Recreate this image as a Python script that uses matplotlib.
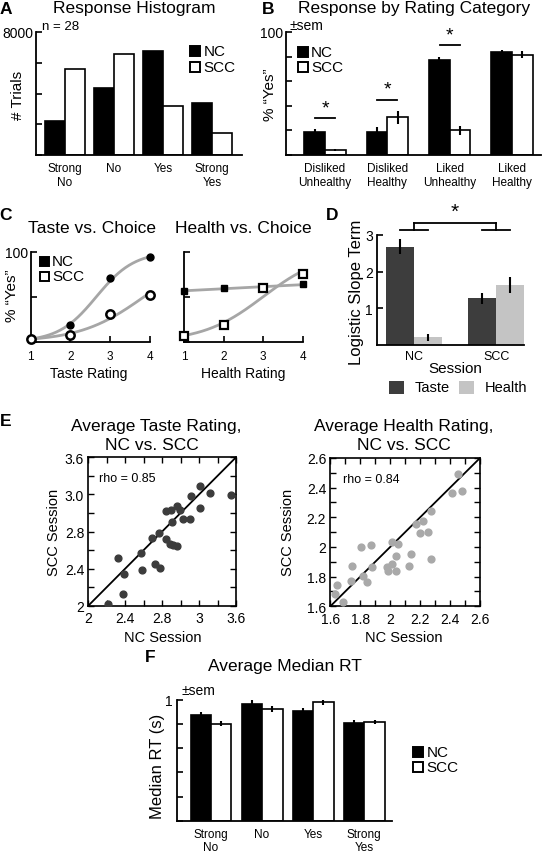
import numpy as np
import matplotlib
matplotlib.use("Agg")
import matplotlib.pyplot as plt
from matplotlib.patches import Rectangle

plt.rcParams['font.family'] = ['Liberation Sans', 'DejaVu Sans']

W, H = 542, 853

# A: response histogram
resp_labels = ["Strong\nNo", "No", "Yes", "Strong\nYes"]
hist_nc = [2230, 4360, 6790, 3400]
hist_scc = [5570, 6550, 3210, 1410]

# B: % yes by rating category
cat_labels = ["Disliked\nUnhealthy", "Disliked\nHealthy", "Liked\nUnhealthy", "Liked\nHealthy"]
yes_nc = [19, 18.5, 77, 83.5]
yes_nc_err = [2.3, 4, 2.3, 1.6]
yes_scc = [4, 30.5, 20, 81.5]
yes_scc_err = [1, 4.9, 3.8, 2.7]
sig_cats = [1, 2, 3]
sig_heights = [30, 45, 89.5]

# C: choice vs rating
ratings = [1, 2, 3, 4]
taste_nc = [3, 19, 71, 94]
taste_scc = [3, 7.8, 30.8, 52]
health_nc = [56.7, 59.3, 60, 64]
health_scc = [6.7, 18.6, 60, 74.9]

# D: logistic slopes
sessions = ["NC", "SCC"]
slope_taste = [2.68, 1.27]
slope_taste_err = [0.2, 0.15]
slope_health = [0.2, 1.63]
slope_health_err = [0.09, 0.21]

# E: average ratings per subject
taste_nc_avg = [2.216, 2.318, 2.39, 2.38, 2.574, 2.578, 2.69, 2.72, 2.77, 2.78,
                2.84, 2.844, 2.9, 2.89, 2.91, 2.92, 2.96, 2.96, 2.995, 3.03,
                3.10, 3.11, 3.21, 3.21, 3.32, 3.55]
taste_scc_avg = [2.02, 2.51, 2.345, 2.13, 2.565, 2.39, 2.727, 2.45, 2.784, 2.41,
                 3.02, 2.72, 3.03, 2.66, 2.905, 2.654, 3.075, 2.64, 3.03, 2.935,
                 2.935, 3.18, 3.057, 3.29, 3.215, 3.19]
health_nc_avg = [1.631, 1.645, 1.687, 1.738, 1.743, 1.805, 1.82, 1.845, 1.872, 1.879,
                 1.977, 1.983, 2.01, 2.012, 2.041, 2.041, 2.052, 2.126, 2.141, 2.17,
                 2.197, 2.219, 2.255, 2.27, 2.275, 2.413, 2.455, 2.48]
health_scc_avg = [1.681, 1.744, 1.629, 1.773, 1.874, 1.998, 1.806, 1.762, 2.013, 1.867,
                  1.867, 1.836, 2.032, 1.887, 1.941, 1.84, 2.022, 1.874, 1.951, 2.155,
                  2.092, 2.172, 2.1, 2.241, 1.919, 2.364, 2.494, 2.38]

# F: median RT
rt_nc = [0.874, 0.965, 0.906, 0.81]
rt_nc_err = [0.025, 0.03, 0.025, 0.02]
rt_scc = [0.80, 0.923, 0.983, 0.816]
rt_scc_err = [0.02, 0.025, 0.025, 0.02]

fig = plt.figure(figsize=(W / 100, H / 100), dpi=100)


def axes_px(l, t, r, b):
    return fig.add_axes([l / W, 1 - b / H, (r - l) / W, (b - t) / H])


def ftext(x, y, s, **kw):
    fig.text(x / W, 1 - y / H, s, **kw)


def open_axes(ax):
    for s in ["top", "right"]:
        ax.spines[s].set_visible(False)
    for s in ["left", "bottom"]:
        ax.spines[s].set_linewidth(1.3)
    ax.tick_params(direction="in", width=1.2, length=4)


def paired_bars(ax, a, b, width, aerr=None, berr=None):
    x = np.arange(1, len(a) + 1)
    ax.bar(x - width / 2, a, width, color="black", edgecolor="black", linewidth=1.2)
    ax.bar(x + width / 2, b, width, color="white", edgecolor="black", linewidth=1.2)
    if aerr is not None:
        ax.errorbar(x - width / 2, a, yerr=aerr, fmt="none", ecolor="black", elinewidth=1.5, capsize=0)
        ax.errorbar(x + width / 2, b, yerr=berr, fmt="none", ecolor="black", elinewidth=1.5, capsize=0)
    return x


# ---------- A ----------
axA = axes_px(36, 33, 242, 156)
open_axes(axA)
xA = paired_bars(axA, hist_nc, hist_scc, 0.41)
axA.set_xlim(0.41, 4.61)
axA.set_ylim(0, 8000)
axA.set_yticks([0, 2000, 4000, 6000, 8000])
axA.set_yticklabels(["", "", "", "", "8000"], fontsize=10)
axA.set_xticks(xA)
axA.set_xticklabels(resp_labels, fontsize=8.5)
axA.tick_params(axis="x", length=0, pad=5)
axA.tick_params(axis="y", pad=2)
ftext(6, 14, "A", fontsize=12.5, fontweight="bold", ha="center", va="baseline")
ftext(134, 13.5, "Response Histogram", fontsize=12.5, ha="center", va="baseline")
ftext(42.5, 30.5, "n = 28", fontsize=9.5, ha="left", va="baseline")
ftext(18, 95, "# Trials", fontsize=11, rotation=90, ha="center", va="center")

# ---------- B ----------
axB = axes_px(286, 33, 541, 156)
open_axes(axB)
xB = paired_bars(axB, yes_nc, yes_scc, 0.33, yes_nc_err, yes_scc_err)
axB.set_xlim(0.374, 4.465)
axB.set_ylim(0, 100)
axB.set_yticks([0, 20, 40, 60, 80, 100])
axB.set_yticklabels(["", "", "", "", "", "100"], fontsize=10)
axB.set_xticks(xB)
axB.set_xticklabels(cat_labels, fontsize=8.5)
axB.tick_params(axis="x", length=0, pad=5)
axB.tick_params(axis="y", pad=2)
for c, h in zip(sig_cats, sig_heights):
    axB.plot([c - 0.16, c + 0.16], [h, h], color="black", lw=1.3)
    axB.text(c, h + 1.5, "*", fontsize=14, ha="center", va="bottom")
ftext(268, 14, "B", fontsize=12.5, fontweight="bold", ha="center", va="baseline")
ftext(414, 13.5, "Response by Rating Category", fontsize=12.5, ha="center", va="baseline")
ftext(290, 30.5, "±sem", fontsize=10, ha="left", va="baseline")
ftext(270, 95, "% \u201cYes\u201d", fontsize=11, rotation=90, ha="center", va="center")


# ---------- C ----------
def logistic_fit(x, p):
    x = np.asarray(x, float)
    q = np.asarray(p, float) / 100.0
    slope, icpt = np.polyfit(x, np.log(q / (1 - q)), 1)
    xs = np.linspace(x.min(), x.max(), 200)
    return xs, 100.0 / (1 + np.exp(-(slope * xs + icpt)))


def curve_axes(ax):
    open_axes(ax)
    ax.set_xlim(1, 4)
    ax.set_ylim(0, 100)
    ax.set_xticks(ratings)
    ax.set_xticklabels([str(r) for r in ratings], fontsize=8.5)
    ax.tick_params(axis="x", pad=6)
    ax.tick_params(axis="y", pad=2)


axC1 = axes_px(30.7, 252.7, 150, 342.7)
curve_axes(axC1)
for ys in (taste_nc, taste_scc):
    cx, cy = logistic_fit(ratings, ys)
    axC1.plot(cx, cy, color="#a6a6a6", lw=2, zorder=2)
axC1.plot(ratings, taste_nc, "o", ms=5, mfc="black", mec="black", clip_on=False, zorder=4)
axC1.plot(ratings, taste_scc, "o", ms=6, mfc="white", mec="black", mew=1.8, clip_on=False, zorder=4)
axC1.set_yticks([0, 50, 100])
axC1.set_yticklabels(["", "", "100"], fontsize=10)

axC2 = axes_px(184.3, 252.7, 302.7, 342.7)
curve_axes(axC2)
for ys in (health_nc, health_scc):
    cx, cy = logistic_fit(ratings, ys)
    axC2.plot(cx, cy, color="#a6a6a6", lw=2, zorder=2)
axC2.plot(ratings, health_nc, "s", ms=5, mfc="black", mec="black", clip_on=False, zorder=4)
axC2.plot(ratings, health_scc, "s", ms=6, mfc="white", mec="black", mew=1.6, clip_on=False, zorder=4)
axC2.set_yticks([0, 50, 100])
axC2.set_yticklabels(["", "", ""])

ftext(6, 220, "C", fontsize=12.5, fontweight="bold", ha="center", va="baseline")
ftext(91.5, 233, "Taste vs. Choice", fontsize=12.5, ha="center", va="baseline")
ftext(243, 233, "Health vs. Choice", fontsize=12.5, ha="center", va="baseline")
ftext(89, 378, "Taste Rating", fontsize=10, ha="center", va="baseline")
ftext(243, 378, "Health Rating", fontsize=10, ha="center", va="baseline")
ftext(12.5, 296, "% \u201cYes\u201d", fontsize=11, rotation=90, ha="center", va="center")

# ---------- D ----------
axD = axes_px(377, 236, 524, 345.7)
open_axes(axD)
xD = np.arange(1, len(sessions) + 1)
wD = 0.338
axD.bar(xD - wD / 2, slope_taste, wD, color="#3d3d3d")
axD.bar(xD + wD / 2, slope_health, wD, color="#c4c4c4")
axD.errorbar(xD - wD / 2, slope_taste, yerr=slope_taste_err, fmt="none", ecolor="black", elinewidth=1.5)
axD.errorbar(xD + wD / 2, slope_health, yerr=slope_health_err, fmt="none", ecolor="black", elinewidth=1.5)
axD.set_xlim(0.549, 2.338)
axD.set_ylim(0, 3)
axD.set_yticks([1, 2, 3])
axD.set_yticklabels(["1", "2", "3"], fontsize=10)
axD.set_xticks(xD)
axD.set_xticklabels(sessions, fontsize=9)
axD.tick_params(axis="x", length=0, pad=4)
axD.tick_params(axis="y", pad=3)
# significance bracket
for c in xD:
    axD.plot([c - 0.17, c + 0.165], [3.14, 3.14], color="black", lw=1.3, clip_on=False)
    axD.plot([c, c], [3.14, 3.32], color="black", lw=1.3, clip_on=False)
axD.plot([xD[0], xD[1]], [3.32, 3.32], color="black", lw=1.3, clip_on=False)
axD.text(xD.mean(), 3.38, "*", fontsize=15, ha="center", va="bottom", clip_on=False)
ftext(332, 220, "D", fontsize=12.5, fontweight="bold", ha="center", va="baseline")
ftext(356, 292, "Logistic Slope Term", fontsize=12, rotation=90, ha="center", va="center")
ftext(455, 373, "Session", fontsize=11, ha="center", va="baseline")

# ---------- E ----------
def scatter_axes(ax, lo, hi, step, labels_x, labels_y):
    ticks = np.round(np.arange(lo, hi + step / 2, step), 3)
    ax.set_xlim(lo, hi)
    ax.set_ylim(lo, hi)
    ax.set_xticks(ticks)
    ax.set_yticks(ticks)
    ax.set_xticklabels(labels_x, fontsize=10)
    ax.set_yticklabels(labels_y, fontsize=10)
    ax.tick_params(direction="in", top=True, right=True, length=4, width=1)
    ax.tick_params(axis="x", pad=4)
    ax.tick_params(axis="y", pad=3)
    for s in ax.spines.values():
        s.set_linewidth(1.2)
    ax.plot([lo, hi], [lo, hi], color="black", lw=1.3, zorder=2)


axE1 = axes_px(88.3, 458.3, 236, 606.7)
tx = ["2", "", "2.4", "", "2.8", "", "3", "", "3.6"]
ty = ["2", "", "2.4", "", "2.8", "", "3.0", "", "3.6"]
scatter_axes(axE1, 2.0, 3.6, 0.2, tx, ty)
axE1.scatter(taste_nc_avg, taste_scc_avg, s=24, color="#3c3c3c", zorder=3)
axE1.text(0.07, 0.86, "rho = 0.85", transform=axE1.transAxes, fontsize=9, ha="left", va="center")

axE2 = axes_px(330.3, 459, 480, 607.3)
hl = ["1.6", "", "1.8", "", "2", "", "2.2", "", "2.4", "", "2.6"]
scatter_axes(axE2, 1.6, 2.6, 0.1, hl, hl)
axE2.scatter(health_nc_avg, health_scc_avg, s=24, color="#a9a9a9", zorder=3)
axE2.text(0.085, 0.86, "rho = 0.84", transform=axE2.transAxes, fontsize=9, ha="left", va="center")

ftext(6, 426, "E", fontsize=12.5, fontweight="bold", ha="center", va="baseline")
ftext(156, 431.5, "Average Taste Rating,", fontsize=12.5, ha="center", va="baseline")
ftext(152, 450, "NC vs. SCC", fontsize=12.5, ha="center", va="baseline")
ftext(404, 431.5, "Average Health Rating,", fontsize=12.5, ha="center", va="baseline")
ftext(404, 450, "NC vs. SCC", fontsize=12.5, ha="center", va="baseline")
ftext(54, 532, "SCC Session", fontsize=10.5, rotation=90, ha="center", va="center")
ftext(288.5, 532, "SCC Session", fontsize=10.5, rotation=90, ha="center", va="center")
ftext(162.5, 641.5, "NC Session", fontsize=10.5, ha="center", va="baseline")
ftext(404, 641.5, "NC Session", fontsize=10.5, ha="center", va="baseline")

# ---------- F ----------
axF = axes_px(176.7, 700.7, 391.7, 821.7)
open_axes(axF)
xF = paired_bars(axF, rt_nc, rt_scc, 0.40, rt_nc_err, rt_scc_err)
axF.set_xlim(0.329, 4.536)
axF.set_ylim(0, 1)
axF.set_yticks([0, 0.2, 0.4, 0.6, 0.8, 1.0])
axF.set_yticklabels(["", "", "", "", "", "1"], fontsize=10)
axF.set_xticks(xF)
axF.set_xticklabels(resp_labels, fontsize=8.5)
axF.tick_params(axis="x", length=0, pad=5)
axF.tick_params(axis="y", pad=3)
ftext(150, 662, "F", fontsize=12.5, fontweight="bold", ha="center", va="baseline")
ftext(285, 671.5, "Average Median RT", fontsize=12.5, ha="center", va="baseline")
ftext(182, 695, "±sem", fontsize=10, ha="left", va="baseline")
ftext(157.5, 766, "Median RT (s)", fontsize=12, rotation=90, ha="center", va="center")

# ---------- legends drawn in pixel space ----------
ov = fig.add_axes([0, 0, 1, 1])
ov.set_xlim(0, W)
ov.set_ylim(H, 0)
ov.axis("off")


def legend_box(x, y, size, face, text, fs=11, gap=3.5, lw=1.4):
    ov.add_patch(Rectangle((x, y), size, size, facecolor=face, edgecolor="black", linewidth=lw))
    ov.text(x + size + gap, y + size / 2, text, fontsize=fs, ha="left", va="center")


legend_box(190, 46.7, 10, "black", "NC")
legend_box(190, 62.7, 10, "white", "SCC")
legend_box(297.7, 47.7, 10, "black", "NC")
legend_box(297.7, 63.3, 10, "white", "SCC")
legend_box(39.5, 257.5, 9, "black", "NC")
legend_box(39.5, 272.7, 9, "white", "SCC")
legend_box(413.3, 748.3, 10, "black", "NC")
legend_box(413.3, 762.7, 10, "white", "SCC")
ov.add_patch(Rectangle((389, 381.7), 15, 13.3, facecolor="#3d3d3d", edgecolor="none"))
ov.text(414.3, 388.5, "Taste", fontsize=10.5, ha="left", va="center")
ov.add_patch(Rectangle((459, 381.7), 15, 13.3, facecolor="#c4c4c4", edgecolor="none"))
ov.text(484.3, 388.5, "Health", fontsize=10.5, ha="left", va="center")

fig.savefig("out.png", dpi=100)
